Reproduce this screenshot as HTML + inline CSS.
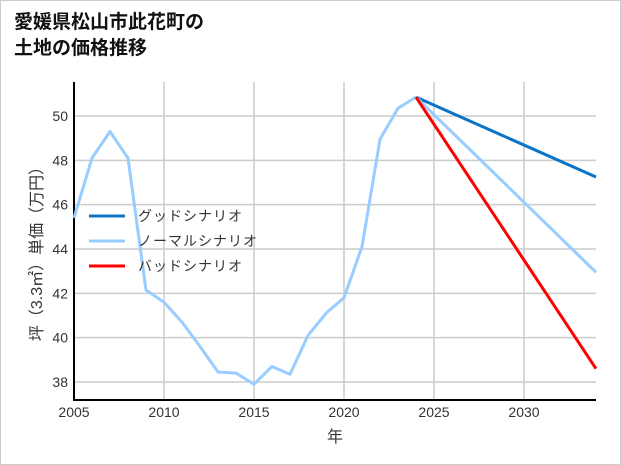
<!DOCTYPE html>
<html><head><meta charset="utf-8"><style>
body{margin:0;background:#fff;font-family:"Liberation Sans","Noto Sans CJK JP",sans-serif}
#wrap{position:relative;width:619px;height:463px;border:1px solid #ccc;background:#fff}
h1{position:absolute;left:13px;top:9px;margin:0;font-size:19px;line-height:26px;font-weight:bold;color:#111}
</style></head><body>
<div id="wrap">
<h1>愛媛県松山市此花町の<br>土地の価格推移</h1>
<svg id="c" width="621" height="465" style="position:absolute;left:-1px;top:-1px"></svg>
</div>
<script>
const years=[2005,2006,2007,2008,2009,2010,2011,2012,2013,2014,2015,2016,2017,2018,2019,2020,2021,2022,2023,2024];
const prices=[45.4,48.1,49.3,48.1,42.15,41.6,40.7,39.6,38.45,38.4,37.9,38.7,38.35,40.1,41.1,41.8,44.1,48.95,50.35,50.85];
const projYears=[2024,2034];
const goodVals=[50.85,47.25];
const normalVals=[50.85,42.95];
const badVals=[50.85,38.6];
const xTicks=[2005,2010,2015,2020,2025,2030];
const yTicks=[38,40,42,44,46,48,50];
const legendLabels=["グッドシナリオ","ノーマルシナリオ","バッドシナリオ"];
const colors=["#0a74c9","#99ccff","#ff0000"];
const X0=74,X1=596,Y0=82,Y1=400;
const xs=y=>X0+(y-2005)*(X1-X0)/29;
const ys=v=>382-(v-38)*(382-116)/12;
const svg=document.getElementById('c');const NS='http://www.w3.org/2000/svg';
function mk(t,a,p){const e=document.createElementNS(NS,t);for(const k in a)e.setAttribute(k,a[k]);(p||svg).appendChild(e);return e;}
xTicks.forEach(t=>{const l=mk('line',{x1:xs(t),x2:xs(t),y1:Y0,y2:Y1,stroke:'#ccc','stroke-width':1.5});

const tx=mk('text',{x:xs(t),y:Y1+17,'text-anchor':'middle','font-size':14,fill:'#333'});tx.textContent=t;
});
yTicks.forEach(t=>{const l=mk('line',{x1:X0,x2:X1,y1:ys(t),y2:ys(t),stroke:'#ccc','stroke-width':1.5});

const tx=mk('text',{x:X0-6,y:ys(t)+5,'text-anchor':'end','font-size':14,fill:'#333'});tx.textContent=t;
});
const ax=mk('path',{d:`M${X0} ${Y0}V${Y1}H${X1}`,fill:'none',stroke:'#000','stroke-width':2});

function line(xv,yv,c,n){const p=mk('polyline',{points:xv.map((x,i)=>xs(x)+','+ys(yv[i])).join(' '),fill:'none',stroke:c,'stroke-width':3,'stroke-linejoin':'round'});
}
svg.appendChild(document.createElementNS(NS,'g'));
const cp=mk('clipPath',{id:'cl'});mk('rect',{x:X0,y:Y0,width:X1-X0,height:Y1-Y0},cp);
line(years,prices,colors[1],'history-line');
line(projYears,goodVals,colors[0],'good-scenario-line');
line(projYears,normalVals,colors[1],'normal-scenario-line');
line(projYears,badVals,colors[2],'bad-scenario-line');
legendLabels.forEach((s,i)=>{const y=216+i*25;
const l=mk('line',{x1:89,x2:125,y1:y,y2:y,stroke:colors[i],'stroke-width':3});

const t=mk('text',{x:138,y:y+5,'font-size':14,fill:'#333','letter-spacing':1});t.textContent=s;
});
const xt=mk('text',{x:335,y:442,'text-anchor':'middle','font-size':16,fill:'#333'});xt.textContent='年';

const yt=mk('text',{x:0,y:0,'text-anchor':'middle','font-size':16,fill:'#333',transform:'translate(42,250) rotate(-90)'});yt.textContent='坪（3.3㎡）単価（万円）';

</script>
</body></html>
